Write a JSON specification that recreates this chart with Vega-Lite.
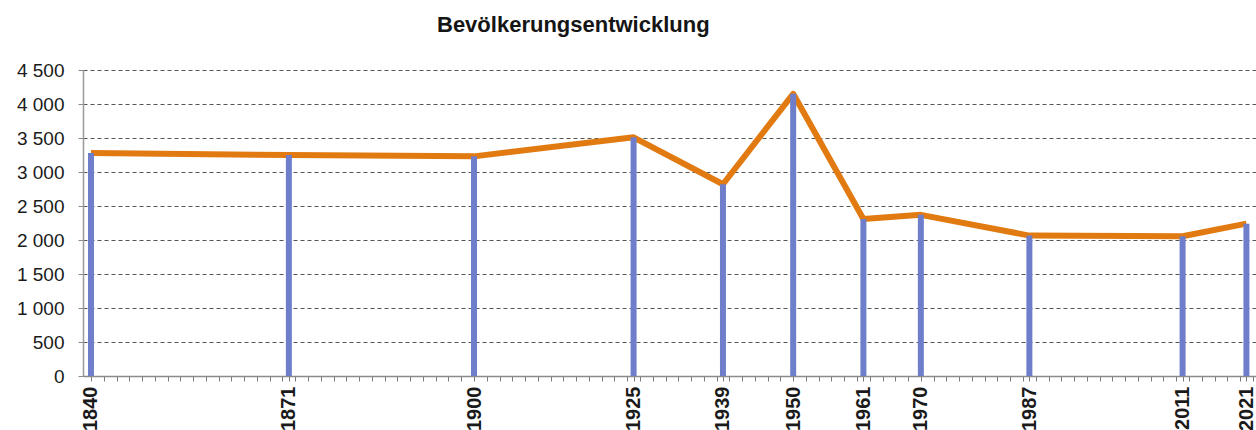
{
  "$schema": "https://vega.github.io/schema/vega-lite/v6.json",
  "autosize": {"type": "none"},
  "padding": {"left": 83, "top": 70, "right": 0, "bottom": 54},
  "width": 1173,
  "height": 306,
  "background": "white",
  "config": {"view": {"stroke": null}, "font": "Liberation Sans"},
  "title": {
    "text": "Bevölkerungsentwicklung",
    "anchor": "start",
    "frame": "group",
    "dx": 354,
    "offset": 7,
    "baseline": "alphabetic",
    "fontSize": 22,
    "fontWeight": "bold",
    "font": "Liberation Sans",
    "color": "#151515"
  },
  "data": {
    "values": [
      {"Jahr": 1840, "Einwohner": 3280},
      {"Jahr": 1871, "Einwohner": 3250},
      {"Jahr": 1900, "Einwohner": 3230},
      {"Jahr": 1925, "Einwohner": 3510},
      {"Jahr": 1939, "Einwohner": 2820},
      {"Jahr": 1950, "Einwohner": 4150},
      {"Jahr": 1961, "Einwohner": 2310},
      {"Jahr": 1970, "Einwohner": 2370},
      {"Jahr": 1987, "Einwohner": 2065},
      {"Jahr": 2011, "Einwohner": 2055},
      {"Jahr": 2021, "Einwohner": 2240}
    ]
  },
  "encoding": {
    "x": {
      "field": "Jahr",
      "type": "quantitative",
      "scale": {"domain": [1838.75, 2022.5], "nice": false, "zero": false},
      "axis": {
        "title": null,
        "grid": false,
        "values": [1840,1842,1844,1846,1848,1850,1852,1854,1856,1858,1860,1862,1864,1866,1868,1870,1871,1872,1874,1876,1878,1880,1882,1884,1886,1888,1890,1892,1894,1896,1898,1900,1902,1904,1906,1908,1910,1912,1914,1916,1918,1920,1922,1924,1925,1926,1928,1930,1932,1934,1936,1938,1939,1940,1942,1944,1946,1948,1950,1952,1954,1956,1958,1960,1961,1962,1964,1966,1968,1970,1972,1974,1976,1978,1980,1982,1984,1986,1987,1988,1990,1992,1994,1996,1998,2000,2002,2004,2006,2008,2010,2011,2012,2014,2016,2018,2020,2021,2022],
        "labelExpr": "indexof([1840,1871,1900,1925,1939,1950,1961,1970,1987,2011,2021], datum.value) >= 0 ? format(datum.value, 'd') : ''",
        "labelAngle": -90,
        "labelFontSize": 20,
        "labelFontWeight": "bold",
        "labelColor": "#1a1a1a",
        "labelPadding": 5,
        "labelOverlap": false,
        "labelFlush": false,
        "labelBound": false,
        "tickSize": 5,
        "tickColor": "#7a7a7a",
        "tickWidth": 1,
        "domainColor": "#8a8a8a",
        "domainWidth": 1.5
      }
    },
    "y": {
      "field": "Einwohner",
      "type": "quantitative",
      "scale": {"domain": [0, 4500], "nice": false},
      "axis": {
        "title": null,
        "values": [0, 500, 1000, 1500, 2000, 2500, 3000, 3500, 4000, 4500],
        "labelExpr": "replace(format(datum.value, ','), ',', ' ')",
        "labelFontSize": 19,
        "labelColor": "#1a1a1a",
        "labelPadding": 14,
        "tickSize": 5,
        "tickColor": "#8a8a8a",
        "domainColor": "#9a9a9a",
        "domainWidth": 1.5,
        "grid": true,
        "gridColor": "#555555",
        "gridDash": [4, 3],
        "gridWidth": 1
      }
    }
  },
  "layer": [
    {
      "mark": {"type": "line", "color": "#e27a12", "strokeWidth": 6, "strokeJoin": "round"}
    },
    {
      "mark": {"type": "rule", "color": "#6f7ecb", "strokeWidth": 6, "strokeCap": "butt"},
      "encoding": {"y2": {"datum": 0}}
    }
  ]
}
